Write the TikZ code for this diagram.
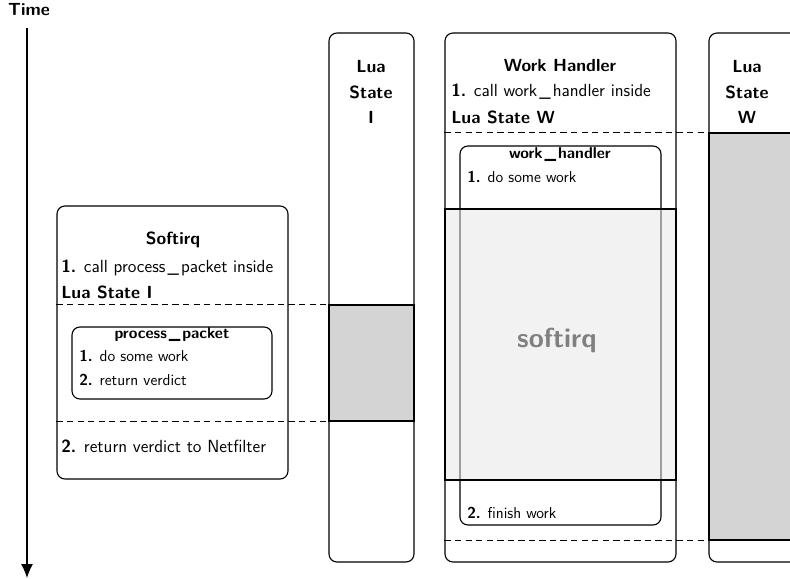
\documentclass[tikz,border=0pt]{standalone}
\usepackage{tikz}
\usetikzlibrary{positioning,fit,calc,arrows.meta}
\newcommand{\mida}{\fontsize{12.5}{18}\selectfont}
\newcommand{\midap}{\fontsize{11.2}{14}\selectfont}
\newcommand{\sub}{\kern.12em\_\kern.12em}
\tikzset{
	%Estils de les caixes i dels textos
	caixa/.style = {rectangle, rounded corners=2mm, draw=black,
                           thick, inner sep=0pt},
	ocupat/.style = {rectangle, draw=black, thick, fill=black!17,
                           inner sep=0pt},
	titol/.style = {font=\sffamily\bfseries\mida, inner sep=0pt},
	linia/.style = {font=\sffamily\mida, anchor=west, inner sep=0pt},
	petit/.style = {font=\sffamily\midap, anchor=west, inner sep=0pt},
	tall/.style = {dash pattern=on 4.5pt off 3pt, thick}
}

\begin{document}
\begin{tikzpicture}[x=0.025cm, y=-0.025cm]
		\clip (0,0) rectangle (790,579);
		% eix del temps
		\node (temps) [titol] at (29,10) {Time};
		\coordinate (tfi) at (27,578);
		\draw[thick, -{Latex[length=3.5mm, width=3mm]}] (27,28) -- (tfi);

		% columnes dels estats Lua
		\node (ocI) [ocupat, fit={(329,305) (414,421)}] {};
		\node (ocW) [ocupat, fit={(709,133) (800,540)}] {};
		\node (luaI) [caixa, fit={(329,33) (414,562)}] {};
		\node (luaW) [caixa, fit={(709,33) (800,562)}] {};
		\node (tI) [titol, align=center] at (371,92) {Lua\\State\\I};
		\node (tW) [titol, align=center] at (747,92) {Lua\\State\\W};

		% softirq
		\node (sirq) [caixa, fit={(57,206) (288,479)}] {};
		\node (sirqT) [titol] at (173,240) {Softirq};
		\node (s1) [linia] at (61,268) {\textbf{1.} call process\sub packet inside};
		\node (s2) [linia, font=\sffamily\bfseries\mida] at (61,292) {Lua State I};
		\node (pp) [caixa, fit={(72,327) (272,399)}] {};
		\node (ppT) [titol, font=\sffamily\bfseries\midap] at (172,335) {process\sub packet};
		\node (pp1) [petit] at (79,356) {\textbf{1.} do some work};
		\node (pp2) [petit] at (79,380) {\textbf{2.} return verdict};
		\node (s3) [linia] at (61,446) {\textbf{2.} return verdict to Netfilter};

		% work handler
		\node (wh) [caixa, fit={(445,33) (676,562)}] {};
		\node (whT) [titol] at (560,65) {Work Handler};
		\node (w1) [linia] at (451,92) {\textbf{1.} call work\sub handler inside};
		\node (w2) [linia, font=\sffamily\bfseries\mida] at (451,117) {Lua State W};
		\node (whf) [caixa, fit={(460,146) (661,525)}] {};
		\node (whfT) [titol, font=\sffamily\bfseries\midap] at (560,155) {work\sub handler};
		\node (wf1) [petit] at (467,177) {\textbf{1.} do some work};
		\node (wf2) [petit] at (467,513) {\textbf{2.} finish work};
		\node (irq) [rectangle, draw=black, thick, fill=black!10, fill opacity=0.5,
		             text opacity=1, inner sep=0pt, fit={(445,209) (676,480)}] {};
		\node (irqT) [titol, font=\sffamily\bfseries\fontsize{19.5}{22}\selectfont, text=black!50] at (557,340) {softirq};

		% talls
		\draw[tall] (sirq.west |- ocI.north) -- (ocI.north west);
		\draw[tall] (sirq.west |- ocI.south) -- (ocI.south west);
		\draw[tall] (wh.west |- ocW.north) -- (ocW.north west);
		\draw[tall] (wh.west |- ocW.south) -- (ocW.south west);
	\end{tikzpicture}
\end{document}
